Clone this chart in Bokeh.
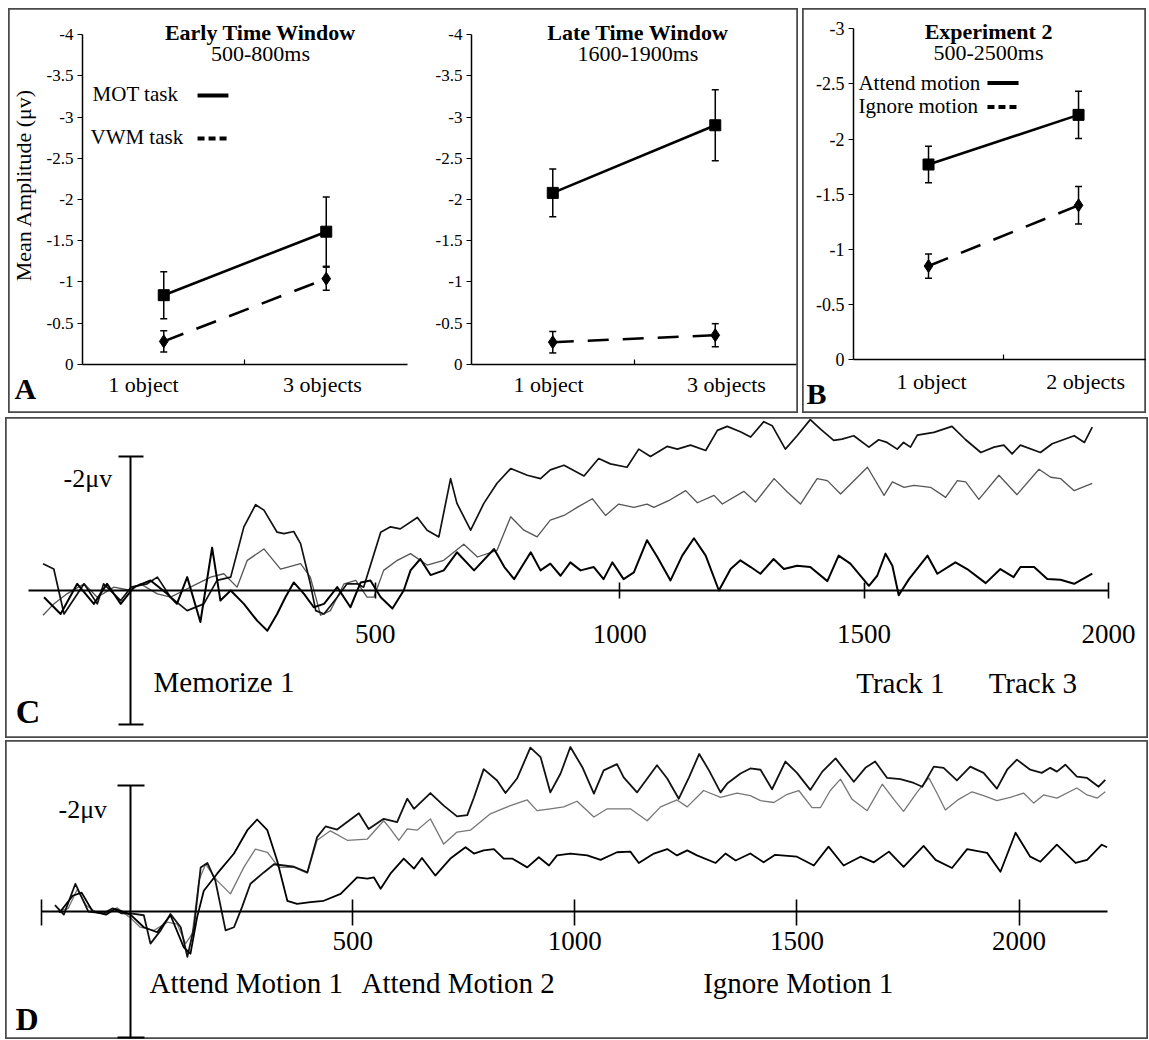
import math
from bokeh.plotting import figure
from bokeh.models import Range1d, LinearAxis, FixedTicker, Whisker, TeeHead, ColumnDataSource
from bokeh.layouts import row, column
from bokeh.core.properties import value
from bokeh.embed import file_html
from bokeh.resources import INLINE

SERIF = "Liberation Serif"

# ---------------- Data: panels A and B (mean amplitude, microvolts) ----------------
cats_exp1 = ["1 object", "3 objects"]
cats_exp2 = ["1 object", "2 objects"]

early_mot = [-0.84, -1.61]
early_mot_err = [0.285, 0.42]
early_vwm = [-0.28, -1.04]
early_vwm_err = [0.13, 0.14]

late_mot = [-2.08, -2.90]
late_mot_err = [0.29, 0.43]
late_vwm = [-0.27, -0.355]
late_vwm_err = [0.13, 0.14]

exp2_attend = [-1.77, -2.22]
exp2_attend_err = [0.165, 0.215]
exp2_ignore = [-0.85, -1.40]
exp2_ignore_err = [0.11, 0.17]

amp_ticks_exp1 = [0, -0.5, -1, -1.5, -2, -2.5, -3, -3.5, -4]
amp_labels_exp1 = ["0", "-0.5", "-1", "-1.5", "-2", "-2.5", "-3", "-3.5", "-4"]
amp_ticks_exp2 = [0, -0.5, -1, -1.5, -2, -2.5, -3]
amp_labels_exp2 = ["0", "-0.5", "-1", "-1.5", "-2", "-2.5", "-3"]

# ---------------- Data: panel C waveforms (time ms, amplitude microvolts) ----------------
c_track3 = [(-180, -0.40), (-158, -0.32), (-137, 0.35), (-96, -0.10), (-69, 0.20), (-56, -0.10),
            (-21, 0.15), (0, -0.05), (33, -0.10), (54, -0.20), (81, 0.10), (115, 0.30), (149, 0.20),
            (176, -0.15), (204, -0.20), (231, -0.95), (255, -1.28), (272, -1.20), (299, -0.87),
            (313, -0.85), (333, -0.88), (347, -0.70), (367, -0.10), (378, 0.30), (395, 0.35),
            (422, 0.10), (442, -0.10), (463, -0.10), (476, -0.05), (511, -0.87), (531, -0.95),
            (551, -0.92), (586, -1.09), (606, -0.90), (630, -0.80), (654, -1.67), (667, -1.30),
            (695, -0.90), (722, -1.30), (749, -1.60), (777, -1.82), (811, -1.72), (838, -1.67),
            (858, -1.80), (886, -1.87), (927, -1.71), (957, -1.97), (981, -1.89), (1015, -1.84),
            (1039, -2.11), (1063, -2.00), (1097, -2.15), (1118, -2.11), (1145, -2.17), (1176, -2.09),
            (1200, -2.39), (1220, -2.45), (1247, -2.37), (1268, -2.29), (1295, -2.52), (1312, -2.46),
            (1339, -2.11), (1363, -2.31), (1390, -2.55), (1411, -2.41), (1438, -2.24), (1455, -2.26),
            (1479, -2.31), (1510, -2.14), (1530, -2.25), (1547, -2.21), (1568, -2.11), (1581, -2.21),
            (1595, -2.14), (1609, -2.32), (1643, -2.36), (1680, -2.45), (1708, -2.25), (1739, -2.06),
            (1766, -2.14), (1786, -2.17), (1803, -2.04), (1820, -2.17), (1861, -2.06), (1885, -2.19),
            (1930, -2.31), (1951, -2.21), (1967, -2.44)]

c_track1 = [(-180, 0.37), (-158, 0.20), (-131, 0.05), (-96, -0.10), (-69, 0.10), (-35, -0.05),
            (0, 0.0), (19, -0.10), (54, 0.05), (81, 0.10), (108, 0.0), (135, -0.10), (163, -0.20),
            (190, -0.25), (217, -0.05), (238, -0.45), (272, -0.62), (306, -0.32), (347, -0.40),
            (367, -0.20), (388, 0.37), (408, 0.30), (436, -0.10), (460, -0.15), (483, 0.10),
            (497, 0.10), (517, -0.30), (545, -0.45), (572, -0.55), (606, -0.38), (640, -0.45),
            (681, -0.69), (709, -0.50), (749, -0.60), (777, -1.10), (804, -0.90), (831, -0.80),
            (858, -1.05), (886, -1.12), (913, -1.24), (944, -1.37), (971, -1.12), (998, -1.29),
            (1029, -1.24), (1056, -1.29), (1070, -1.24), (1100, -1.34), (1135, -1.49), (1159, -1.31),
            (1193, -1.42), (1210, -1.29), (1254, -1.48), (1278, -1.32), (1316, -1.67), (1343, -1.47),
            (1370, -1.29), (1404, -1.67), (1425, -1.64), (1452, -1.44), (1507, -1.84), (1541, -1.42),
            (1558, -1.62), (1582, -1.54), (1602, -1.57), (1636, -1.54), (1667, -1.39), (1691, -1.64),
            (1708, -1.62), (1735, -1.36), (1776, -1.72), (1813, -1.43), (1858, -1.81), (1882, -1.69),
            (1902, -1.67), (1930, -1.49), (1967, -1.60)]

c_memorize1 = [(-178, 0.10), (-144, 0.35), (-110, -0.10), (-76, 0.20), (-49, -0.10), (-21, 0.20),
               (6, -0.05), (40, -0.15), (74, 0.05), (94, 0.20), (115, -0.20), (142, 0.47),
               (166, -0.64), (183, 0.15), (204, 0.0), (231, 0.20), (258, 0.45), (279, 0.60),
               (299, 0.35), (316, 0.10), (333, -0.12), (354, 0.05), (374, 0.25), (395, 0.20),
               (422, -0.05), (449, 0.25), (470, -0.12), (490, -0.15), (511, 0.10), (535, 0.27),
               (558, 0.0), (572, -0.30), (592, -0.47), (613, -0.23), (640, -0.30), (667, -0.57),
               (702, -0.30), (743, -0.62), (764, -0.35), (784, -0.17), (818, -0.57), (838, -0.30),
               (858, -0.40), (879, -0.22), (899, -0.42), (920, -0.30), (947, -0.35), (967, -0.17),
               (985, -0.42), (1008, -0.17), (1029, -0.27), (1056, -0.75), (1077, -0.50), (1104, -0.15),
               (1128, -0.52), (1152, -0.78), (1176, -0.52), (1203, 0.0), (1227, -0.32), (1247, -0.45),
               (1268, -0.35), (1288, -0.25), (1315, -0.47), (1336, -0.32), (1363, -0.37), (1390, -0.35),
               (1425, -0.14), (1448, -0.52), (1472, -0.40), (1510, -0.07), (1527, -0.22), (1544, -0.55),
               (1558, -0.37), (1571, 0.07), (1592, -0.17), (1630, -0.52), (1650, -0.25), (1687, -0.42),
               (1711, -0.32), (1749, -0.11), (1779, -0.32), (1806, -0.20), (1820, -0.35), (1848, -0.35),
               (1875, -0.17), (1902, -0.16), (1930, -0.10), (1967, -0.25)]

# ---------------- Data: panel D waveforms ----------------
d_attend2 = [(-170, -0.10), (-150, 0.05), (-124, -0.44), (-95, 0.0), (-60, 0.03), (-40, -0.05),
             (-20, 0.03), (0, 0.03), (30, 0.06), (45, 0.51), (68, 0.30), (90, 0.04), (113, 0.25),
             (128, 0.72), (143, 0.25), (158, -0.70), (173, -0.77), (191, -0.49), (214, 0.30),
             (233, 0.25), (251, -0.07), (270, -0.44), (300, -0.62), (323, -0.75), (368, -0.71),
             (398, -0.62), (420, -1.18), (439, -1.35), (465, -1.30), (514, -1.56), (536, -1.31),
             (570, -1.47), (600, -1.42), (623, -1.79), (638, -1.63), (675, -1.88), (705, -1.68),
             (735, -1.51), (758, -1.53), (773, -1.81), (795, -2.26), (825, -2.08), (844, -1.88),
             (870, -2.11), (900, -2.60), (923, -2.45), (945, -1.89), (968, -2.19), (990, -2.61),
             (1017, -2.29), (1043, -1.87), (1065, -2.24), (1095, -2.34), (1110, -2.13), (1140, -1.89),
             (1185, -2.32), (1208, -2.11), (1234, -1.79), (1257, -2.13), (1280, -2.50), (1302, -2.24),
             (1328, -1.89), (1343, -2.03), (1373, -2.19), (1395, -2.27), (1418, -2.25), (1444, -1.94),
             (1474, -2.38), (1500, -2.20), (1530, -1.93), (1557, -2.22), (1587, -2.43), (1628, -2.06),
             (1654, -2.28), (1676, -2.38), (1703, -2.12), (1733, -2.10), (1763, -2.04), (1782, -1.98),
             (1808, -2.30), (1830, -2.28), (1860, -2.08), (1890, -2.30), (1920, -2.20), (1950, -1.95),
             (1973, -2.25), (1995, -2.41), (2025, -2.25), (2051, -2.20), (2070, -2.28), (2085, -2.22),
             (2104, -2.33), (2130, -2.14), (2153, -2.12), (2179, -1.98), (2194, -2.09)]

d_attend1 = [(-165, 0.0), (-140, -0.05), (-120, -0.35), (-100, -0.10), (-80, 0.0), (-50, 0.02),
             (-30, -0.06), (-10, 0.05), (0, 0.10), (22, 0.25), (53, 0.30), (83, 0.17), (105, 0.20),
             (124, 0.51), (139, 0.35), (154, -0.49), (169, -0.75), (195, -0.49), (225, -0.28),
             (255, -0.70), (281, -0.99), (308, -0.94), (334, -0.70), (368, -0.70), (398, -0.61),
             (420, -1.13), (450, -1.28), (488, -1.13), (533, -1.15), (570, -1.44), (585, -1.31),
             (604, -1.13), (623, -1.31), (645, -1.29), (675, -1.47), (705, -1.07), (735, -1.26),
             (765, -1.29), (810, -1.55), (855, -1.68), (893, -1.77), (915, -1.60), (945, -1.63),
             (975, -1.66), (1005, -1.75), (1043, -1.50), (1073, -1.63), (1125, -1.63), (1163, -1.44),
             (1193, -1.66), (1230, -1.77), (1253, -1.66), (1290, -1.92), (1328, -1.81), (1365, -1.88),
             (1395, -1.84), (1418, -1.76), (1448, -1.73), (1478, -1.86), (1504, -1.92), (1534, -1.65),
             (1553, -1.65), (1575, -1.92), (1598, -2.10), (1624, -1.78), (1658, -1.60), (1692, -2.02),
             (1718, -1.78), (1740, -1.59), (1770, -1.89), (1797, -2.12), (1815, -1.88), (1834, -1.61),
             (1864, -1.78), (1894, -1.90), (1920, -1.84), (1950, -1.76), (1980, -1.81), (2010, -1.88),
             (2033, -1.72), (2055, -1.85), (2085, -1.80), (2130, -1.96), (2153, -1.85), (2176, -1.80),
             (2194, -1.90)]

d_ignore1 = [(-160, 0.02), (-130, -0.25), (-110, -0.30), (-85, 0.0), (-55, 0.05), (-35, -0.04),
             (0, 0.05), (30, 0.25), (60, 0.33), (90, 0.06), (120, 0.57), (135, 0.67), (150, 0.09),
             (165, -0.33), (195, -0.60), (233, -0.92), (263, -1.29), (285, -1.46), (308, -1.29),
             (330, -0.81), (353, -0.17), (375, -0.12), (405, -0.15), (435, -0.17), (473, -0.28),
             (510, -0.54), (533, -0.52), (548, -0.54), (563, -0.36), (585, -0.60), (615, -0.84),
             (638, -0.68), (656, -0.85), (686, -0.57), (720, -0.84), (754, -1.02), (773, -0.92),
             (795, -0.97), (818, -0.99), (840, -0.84), (859, -0.84), (893, -0.70), (919, -0.86),
             (942, -0.73), (960, -0.89), (990, -0.92), (1028, -0.89), (1058, -0.82), (1095, -0.94),
             (1125, -0.95), (1144, -0.77), (1178, -0.92), (1208, -0.99), (1230, -0.89), (1253, -0.97),
             (1275, -0.89), (1317, -0.77), (1339, -0.92), (1362, -0.81), (1395, -0.92), (1425, -0.78),
             (1451, -0.90), (1500, -0.87), (1538, -0.73), (1571, -1.03), (1605, -0.73), (1643, -0.87),
             (1673, -0.78), (1707, -0.95), (1740, -0.71), (1785, -1.04), (1812, -0.82), (1849, -0.69),
             (1883, -0.99), (1928, -0.93), (1958, -0.63), (1992, -1.25), (2025, -0.87), (2048, -0.79),
             (2085, -1.06), (2127, -0.77), (2153, -0.82), (2186, -1.06), (2198, -1.02)]

time_ticks_c = [500, 1000, 1500, 2000]
time_ticks_d = [-200, 500, 1000, 1500, 2000]


# ---------------- helpers ----------------
def base_fig(w, h, xr, yr, margin):
    p = figure(width=w, height=h, x_range=Range1d(*xr), y_range=Range1d(*yr),
               x_axis_type=None, y_axis_type=None, toolbar_location=None, tools="",
               output_backend="svg", min_border=0, margin=margin)
    p.outline_line_color = "#4a4a4a"
    p.outline_line_width = 2.5
    p.background_fill_color = "white"
    p.border_fill_color = "white"
    return p


def txt(p, x, y, s, size, bold=False, align="center", angle=0.0, color="black"):
    p.text(x=[x], y=[y], text=[s], text_font=value(SERIF), text_font_size=value(f"{size}px"),
           text_font_style=value("bold" if bold else "normal"), text_align=align,
           text_baseline="middle", angle=angle, text_color=color)


def amp_axes(p, offset, cats, label_pos, ticks, labels, tick_size, cat_standoff):
    yax = LinearAxis(fixed_location=offset, bounds=(min(ticks), 0),
                     ticker=FixedTicker(ticks=ticks, minor_ticks=[]),
                     major_label_overrides={t: l for t, l in zip(ticks, labels)},
                     major_tick_in=0, major_tick_out=5, minor_tick_in=0, minor_tick_out=0,
                     major_label_standoff=4, axis_line_width=1.5, axis_line_color="black",
                     major_tick_line_width=1.2, major_label_text_font=SERIF,
                     major_label_text_font_size=f"{tick_size}px", major_label_text_color="black")
    p.add_layout(yax, "left")
    lx = [offset + d for d in label_pos]
    xax = LinearAxis(fixed_location=0, bounds=(offset, offset + len(cats)),
                     ticker=FixedTicker(ticks=lx, minor_ticks=[offset + 1]),
                     major_label_overrides=dict(zip(lx, cats)),
                     major_tick_in=0, major_tick_out=0, minor_tick_in=5, minor_tick_out=0,
                     minor_tick_line_width=1.2, minor_tick_line_color="black",
                     major_label_standoff=cat_standoff, axis_line_width=1.5, axis_line_color="black",
                     major_label_text_font=SERIF, major_label_text_font_size="22px",
                     major_label_text_color="black")
    p.add_layout(xax, "below")
    return [offset + i + 0.5 for i in range(len(cats))]


def conditions(p, xs, solid, solid_err, dashed, dashed_err, sq=11, dm=13):
    p.line(xs, solid, line_color="black", line_width=2.6)
    p.line(xs, dashed, line_color="black", line_width=2.6, line_dash="21 14")
    for vals, errs in ((solid, solid_err), (dashed, dashed_err)):
        src = ColumnDataSource(dict(x=xs, lo=[v - e for v, e in zip(vals, errs)],
                                    hi=[v + e for v, e in zip(vals, errs)]))
        p.add_layout(Whisker(source=src, base="x", lower="lo", upper="hi", dimension="height",
                             line_color="black", line_width=1.5,
                             upper_head=TeeHead(size=7, line_width=1.5, line_color="black"),
                             lower_head=TeeHead(size=7, line_width=1.5, line_color="black")))
    p.scatter(xs, solid, marker="square", size=sq, color="black")
    p.scatter(xs, dashed, marker="diamond", size=dm, color="black")


# ---------------- Panel A ----------------
A_OFF2 = 2.394
pA = base_fig(790, 405, (-0.4554, 4.4062), (0.594, -4.3152), (8, 0, 0, 8))
xs1 = amp_axes(pA, 0.0, cats_exp1, [0.375, 1.477], amp_ticks_exp1, amp_labels_exp1, 17, 8)
xs2 = amp_axes(pA, A_OFF2, cats_exp1, [0.474, 1.569], amp_ticks_exp1, amp_labels_exp1, 17, 8)
conditions(pA, xs1, early_mot, early_mot_err, early_vwm, early_vwm_err)
conditions(pA, xs2, late_mot, late_mot_err, late_vwm, late_vwm_err)

txt(pA, 1.095, -4.024, "Early Time Window", 22, bold=True)
txt(pA, 1.095, -3.770, "500-800ms", 22)
txt(pA, A_OFF2 + 1.024, -4.024, "Late Time Window", 22, bold=True)
txt(pA, A_OFF2 + 1.024, -3.770, "1600-1900ms", 22)
txt(pA, 0.062, -3.273, "MOT task", 21, align="left")
txt(pA, 0.049, -2.752, "VWM task", 21, align="left")
pA.line([0.708, 0.898], [-3.26, -3.26], line_color="black", line_width=4)
pA.line([0.708, 0.888], [-2.739, -2.739], line_color="black", line_width=4, line_dash="7 4")
txt(pA, -0.363, -2.176, "Mean Amplitude (\u03bcv)", 22, angle=math.pi / 2)
txt(pA, -0.418, 0.291, "A", 30, bold=True, align="left")

# ---------------- Panel B ----------------
pB = base_fig(344, 405, (-0.34, 1.953), (0.4867, -3.184), (8, 0, 0, 4))
xsb = amp_axes(pB, 0.0, cats_exp2, [0.52, 1.547], amp_ticks_exp2, amp_labels_exp2, 18, 9)
conditions(pB, xsb, exp2_attend, exp2_attend_err, exp2_ignore, exp2_ignore_err)
txt(pB, 0.9, -2.976, "Experiment 2", 22, bold=True)
txt(pB, 0.9, -2.783, "500-2500ms", 22)
txt(pB, 0.033, -2.513, "Attend motion", 21, align="left")
txt(pB, 0.033, -2.296, "Ignore motion", 21, align="left")
pB.line([0.893, 1.10], [-2.509, -2.509], line_color="black", line_width=4)
pB.line([0.893, 1.093], [-2.291, -2.291], line_color="black", line_width=4, line_dash="7 4")
txt(pB, -0.313, 0.305, "B", 30, bold=True, align="left")


# ---------------- Panels C and D ----------------
def wave_panel(h, xr, yr, margin, ticks, bounds, t_in, t_out, standoff, bar_in, bar_out):
    p = base_fig(1143, h, xr, yr, margin)
    tax = LinearAxis(fixed_location=0, bounds=bounds,
                     ticker=FixedTicker(ticks=ticks, minor_ticks=[]),
                     major_label_overrides={t: ("" if t < 0 else str(t)) for t in ticks},
                     major_tick_in=t_in, major_tick_out=t_out, minor_tick_in=0, minor_tick_out=0,
                     major_label_standoff=standoff, axis_line_width=2, axis_line_color="black",
                     major_tick_line_width=1.6, major_label_text_font=SERIF,
                     major_label_text_font_size="27px", major_label_text_color="black")
    p.add_layout(tax, "below")
    bar = LinearAxis(fixed_location=0, bounds=(-2, 2),
                     ticker=FixedTicker(ticks=[-2, 2], minor_ticks=[]),
                     major_label_overrides={-2: "", 2: ""},
                     major_tick_in=bar_in, major_tick_out=bar_out, minor_tick_in=0, minor_tick_out=0,
                     axis_line_width=2, axis_line_color="black", major_tick_line_width=2.2)
    p.add_layout(bar, "left")
    return p


def draw_wave(p, pts, color, width):
    ts = [a for a, _ in pts]
    vs = [b for _, b in pts]
    p.line(ts, vs, line_color=color, line_width=width, line_join="round")


pC = wave_panel(321, (-256.8, 2082.1), (2.209, -2.582), (4, 0, 0, 5),
                time_ticks_c, (-210, 2000), 8, 8, 27, 13, 12)
draw_wave(pC, c_track1, "#555555", 1.3)
draw_wave(pC, c_track3, "#111111", 1.7)
draw_wave(pC, c_memorize1, "#000000", 2.0)
txt(pC, -138, -1.672, "-2\u03bcv", 26, align="left")
txt(pC, 46, 1.373, "Memorize 1", 29, align="left")
txt(pC, 1484, 1.388, "Track 1", 29, align="left")
txt(pC, 1755, 1.388, "Track 3", 29, align="left")
txt(pC, -236, 1.813, "C", 34, bold=True, align="left")

pD = wave_panel(299, (-281.3, 2291.2), (2.032, -2.714), (2, 0, 0, 5),
                time_ticks_d, (-200, 2200), 12, 14, 7, 14, 13)
draw_wave(pD, d_attend1, "#777777", 1.3)
draw_wave(pD, d_attend2, "#111111", 1.8)
draw_wave(pD, d_ignore1, "#000000", 1.8)
txt(pD, -162, -1.619, "-2\u03bcv", 26, align="left")
txt(pD, 43, 1.143, "Attend Motion 1", 29, align="left")
txt(pD, 520, 1.143, "Attend Motion 2", 29, align="left")
txt(pD, 1289, 1.143, "Ignore Motion 1", 29, align="left")
txt(pD, -259, 1.70, "D", 32, bold=True, align="left")

layout = column(row(pA, pB, spacing=0), pC, pD, spacing=0)

open("out.html", "w").write(file_html(layout, INLINE))
